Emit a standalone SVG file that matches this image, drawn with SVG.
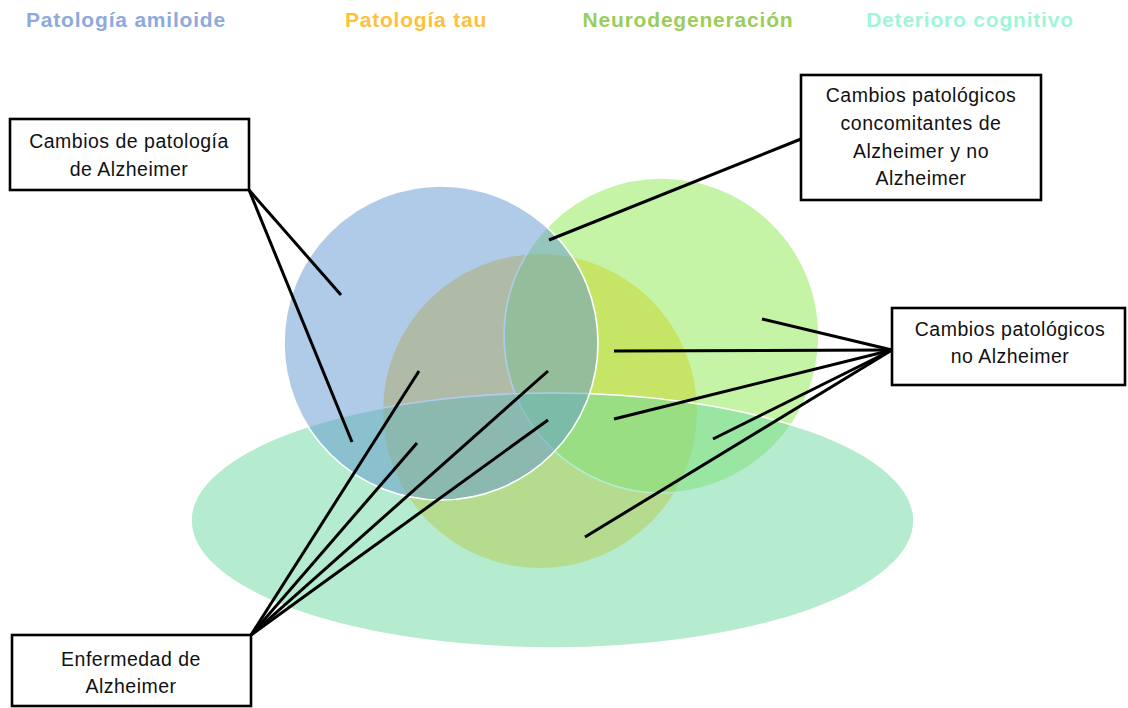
<svg xmlns="http://www.w3.org/2000/svg" width="1128" height="708" viewBox="0 0 1128 708">
<style>
.title{font-family:"Liberation Sans",Arial,sans-serif;font-weight:bold;font-size:21px;letter-spacing:0.8px;text-anchor:middle;dominant-baseline:central}
.lbl{font-family:"Liberation Sans",Arial,sans-serif;font-size:19.5px;letter-spacing:0.5px;fill:#111;text-anchor:middle;dominant-baseline:central}
.box{fill:#fff;stroke:#000;stroke-width:2.6}
.shape{fill-opacity:0.5;stroke:#fff;stroke-width:1.6}
.conn line{stroke:#000;stroke-width:3}
</style>
<rect width="1128" height="708" fill="#fff"/>
<g id="titles">
<text class="title" x="126" y="19" fill="#8eaadc">Patología amiloide</text>
<text class="title" x="416" y="19" fill="#fec13c">Patología tau</text>
<text class="title" x="688" y="19" fill="#9bcd5a">Neurodegeneración</text>
<text class="title" x="970" y="19" fill="#9ff6d6">Deterioro cognitivo</text>
</g>
<g id="venn">
<circle id="tau" cx="540" cy="411" r="157" fill="#ffc000" fill-opacity="0.5"/>
<circle id="neuro" class="shape" cx="661.5" cy="335.5" r="157.5" fill="#8de94d"/>
<ellipse id="deterioro" class="shape" cx="552.5" cy="520.5" rx="361.5" ry="127.5" fill="#6bd79f"/>
<circle id="amiloide" class="shape" cx="441" cy="343" r="157" fill="#6197cf"/>
</g>
<g id="connectors" class="conn">
<line x1="249" y1="190" x2="341" y2="295"/>
<line x1="249" y1="190" x2="352" y2="442"/>
<line x1="801" y1="139" x2="549" y2="240"/>
<line x1="892" y1="350" x2="762" y2="319"/>
<line x1="892" y1="350" x2="614" y2="351"/>
<line x1="892" y1="350" x2="614" y2="419"/>
<line x1="892" y1="350" x2="713" y2="439"/>
<line x1="892" y1="350" x2="585" y2="537"/>
<line x1="251" y1="635" x2="419" y2="371"/>
<line x1="251" y1="635" x2="417" y2="443"/>
<line x1="251" y1="635" x2="548" y2="371"/>
<line x1="251" y1="635" x2="548" y2="420"/>
</g>
<g id="node-cambios-alzheimer">
<rect class="box" x="10" y="119" width="239" height="71"/>
<text class="lbl" x="129" y="141">Cambios de patología</text>
<text class="lbl" x="129" y="169">de Alzheimer</text>
</g>
<g id="node-concomitantes">
<rect class="box" x="801" y="75" width="240" height="125"/>
<text class="lbl" x="921" y="95">Cambios patológicos</text>
<text class="lbl" x="921" y="123">concomitantes de</text>
<text class="lbl" x="921" y="151">Alzheimer y no</text>
<text class="lbl" x="921" y="178">Alzheimer</text>
</g>
<g id="node-no-alzheimer">
<rect class="box" x="892" y="308" width="233" height="77"/>
<text class="lbl" x="1010" y="329">Cambios patológicos</text>
<text class="lbl" x="1010" y="356">no Alzheimer</text>
</g>
<g id="node-enfermedad">
<rect class="box" x="12" y="635" width="239" height="71"/>
<text class="lbl" x="131" y="659">Enfermedad de</text>
<text class="lbl" x="131" y="686">Alzheimer</text>
</g>
</svg>
